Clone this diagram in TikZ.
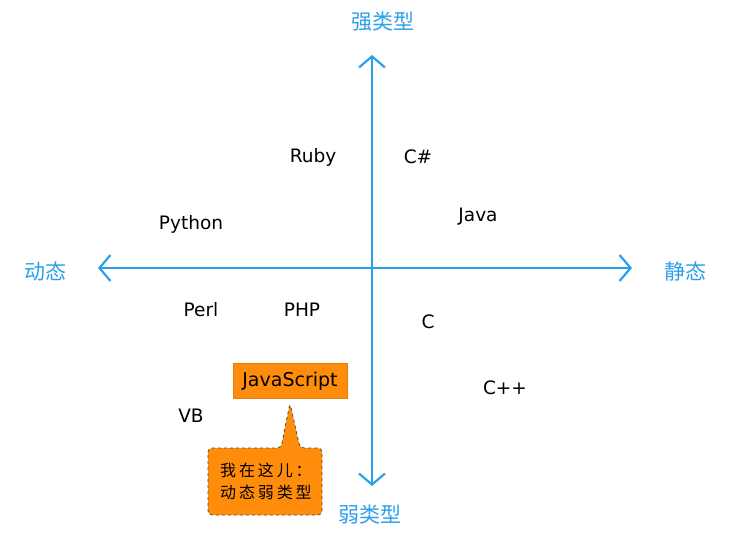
\documentclass[tikz,border=0pt]{standalone}
\usepackage{fontspec}
\setmainfont{DejaVu Sans}
\newfontfamily\cjk{Noto Sans CJK SC}
\newfontfamily\cjkwide[LetterSpace=18]{Noto Sans CJK SC}
\usetikzlibrary{arrows.meta,calc}
\definecolor{axisblue}{HTML}{2C9FEA}
\definecolor{jsorange}{HTML}{FF8C0A}
\begin{document}
\begin{tikzpicture}[x=1pt,y=-1pt,
  axis/.style={draw=axisblue,line width=2.6pt,line cap=round,
    arrows={Straight Barb[length=11pt,width=26pt,line width=2.2pt]-Straight Barb[length=11pt,width=26pt,line width=2.2pt]}},
  axlabel/.style={text=axisblue,font=\cjk\fontsize{21}{24}\selectfont},
  lang/.style={font=\fontsize{18.5}{21}\selectfont,text=black},
  jsbox/.style={fill=jsorange,draw=jsorange!90!black,line width=0.4pt,font=\fontsize{19}{21}\selectfont,inner xsep=3pt,minimum width=114pt,minimum height=35pt},
  callout/.style={fill=jsorange,draw=black!70,dashed,line width=0.8pt,rounded corners=4pt}]
\useasboundingbox (0,0) rectangle (739,534);
\coordinate (L) at (98,268);
\coordinate (R) at (632,268);
\coordinate (T) at (372,55);
\coordinate (B) at (372,486);
\draw[axis] (L) -- (R);
\draw[axis] (B) -- (T);
\node[axlabel] (strong) at (383,22) {强类型};
\node[axlabel] (weak) at (370,515) {弱类型};
\node[axlabel] (dyn) at (45,271) {动态};
\node[axlabel] (stat) at (685,271) {静态};
\node[lang] (ruby) at (313,157) {Ruby};
\node[lang] (cs) at (418,157) {C\#};
\node[lang] (java) at (478,217) {Java};
\node[lang] (python) at (191,224) {Python};
\node[lang] (perl) at (201,310) {Perl};
\node[lang] (php) at (302,310) {PHP};
\node[lang] (c) at (428,322) {C};
\node[lang] (cpp) at (505,388) {C++};
\node[lang] (vb) at (191,416) {VB};
\node[jsbox] (js) at (290,381) {JavaScript};
\coordinate (tip) at (290,403);
\draw[callout] (208,448) -- (281,448) -- (tip) -- (300,448) -- (322,448) -- (322,515) -- (208,515) -- cycle;
\node[font=\cjkwide\fontsize{16}{18}\selectfont,align=left,text=black] (note) at (266,481) {我在这儿：\\[4pt]动态弱类型};
\end{tikzpicture}
\end{document}
